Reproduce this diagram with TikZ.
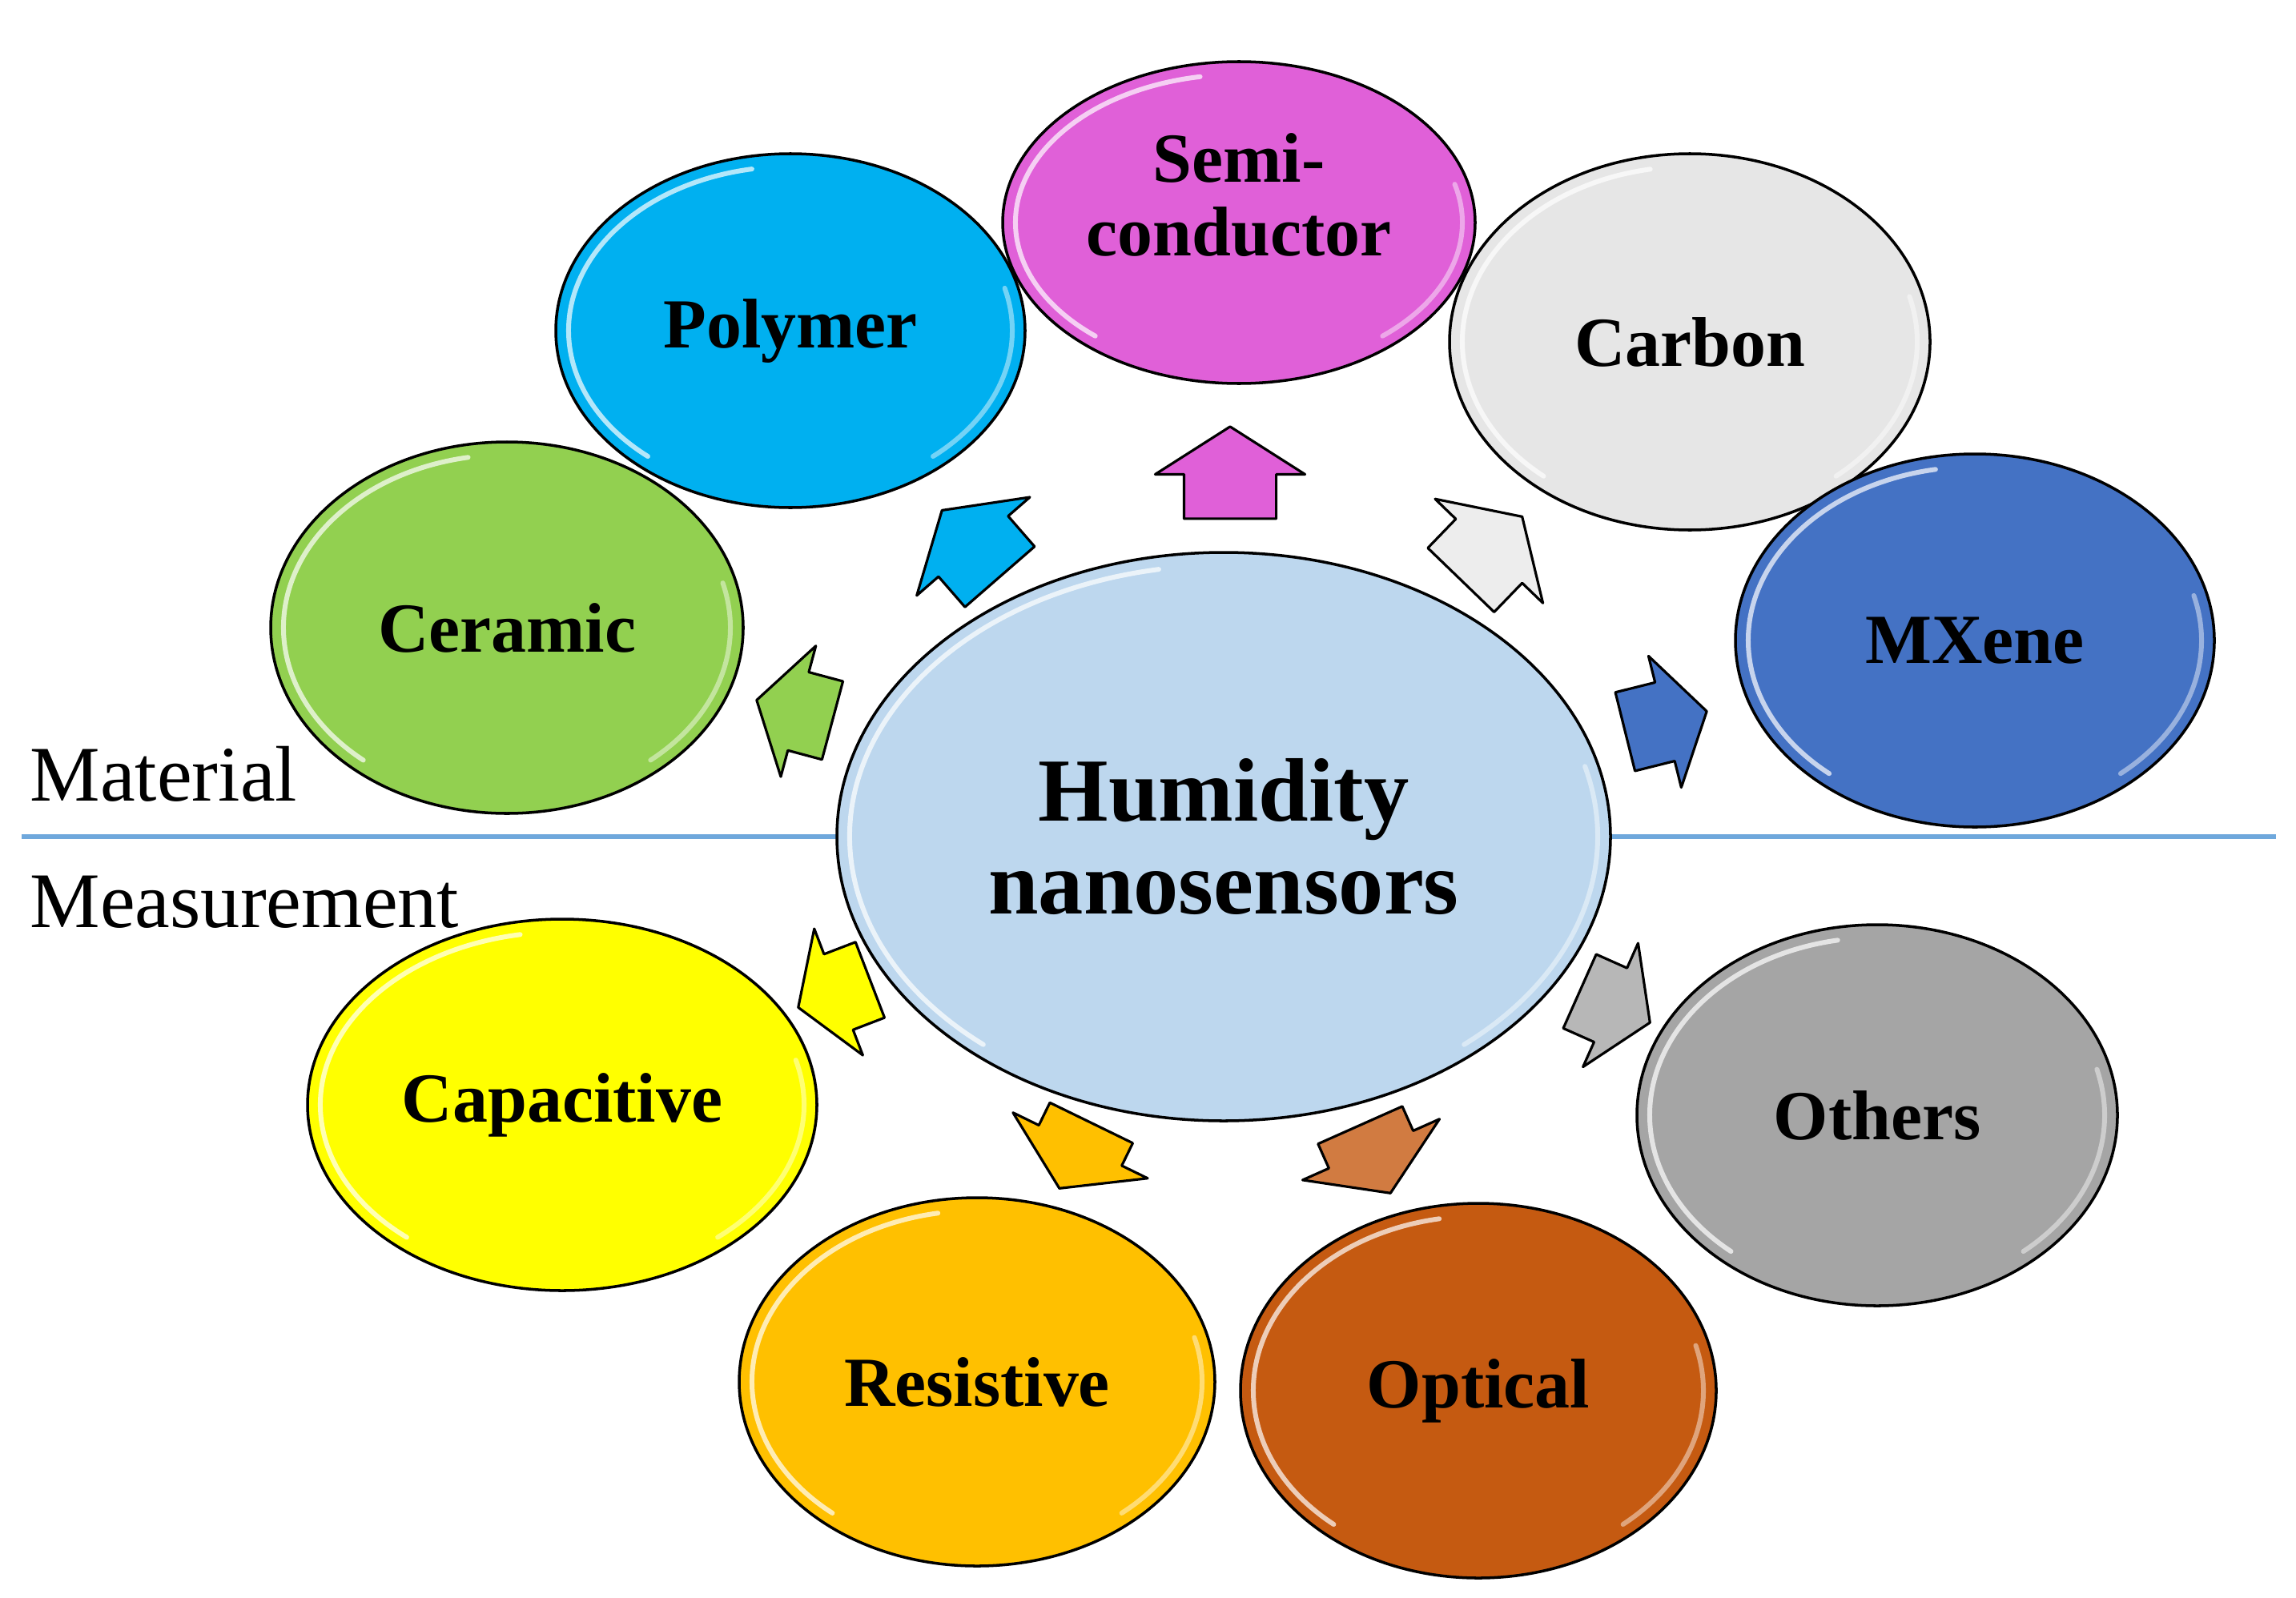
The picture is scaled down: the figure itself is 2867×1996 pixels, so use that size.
\documentclass[tikz,border=0pt]{standalone}
\usepackage{fontspec}
\setmainfont{Liberation Serif}
\usetikzlibrary{shapes.geometric,shapes.arrows}
\definecolor{cSemi}{HTML}{E060D8}
\definecolor{cPoly}{HTML}{00B0F0}
\definecolor{cCarb}{HTML}{E6E6E6}
\definecolor{cCera}{HTML}{92D050}
\definecolor{cMX}{HTML}{4472C4}
\definecolor{cHub}{HTML}{BDD7EE}
\definecolor{cCap}{HTML}{FFFF00}
\definecolor{cOth}{HTML}{A5A5A5}
\definecolor{cRes}{HTML}{FFC000}
\definecolor{cOpt}{HTML}{C55A11}
\definecolor{cLine}{HTML}{6FA8DC}
\newcommand\glossarc[4]{%
 \draw[gloss] ({#1+(#3-16)*cos(100)},{#2-(#4-16)*sin(100)}) arc[start angle=100,end angle=230,x radius={(#3-16)*0.1mm},y radius={(#4-16)*0.1mm}];
 \draw[gloss,opacity=0.45] ({#1+(#3-16)*cos(-50)},{#2-(#4-16)*sin(-50)}) arc[start angle=-50,end angle=15,x radius={(#3-16)*0.1mm},y radius={(#4-16)*0.1mm}];}
\begin{document}
\begin{tikzpicture}[x=0.1mm,y=-0.1mm,
  bubble/.style={ellipse, draw=black, line width=1pt, align=center, inner sep=0pt,
     font=\bfseries\fontsize{25}{26}\selectfont},
  gloss/.style={draw=white, line width=0.6mm, opacity=0.7, line cap=round},
  blockarrow/.style={single arrow, draw=black, line width=0.9pt, inner xsep=0pt, inner ysep=5.6mm,
     minimum height=11.5mm, single arrow head extend=3.6mm,
     single arrow tip angle=115, line join=round, anchor=tip},
  slimarrow/.style={blockarrow, inner ysep=4.9mm, single arrow head extend=3.4mm},
  sidelabel/.style={font=\fontsize{28}{30}\selectfont, anchor=base west, inner sep=0pt}]
\useasboundingbox (0,0) rectangle (2867,1996);
\fill[white] (0,0) rectangle (2867,1996);
% separator
\coordinate (lineL) at (27,1045);
\coordinate (lineR) at (2842,1045);
\draw[cLine, line width=1.5pt] (lineL) -- (lineR);
\node[sidelabel] (mat) at (37,1000) {Material};
\node[sidelabel] (meas) at (37,1158) {Measurement};
% hub
\node[bubble, fill=cHub, minimum width=96.6mm, minimum height=71mm,
      font=\bfseries\fontsize{32}{33}\selectfont] (hub) at (1528,1045) {Humidity\\nanosensors};
\glossarc{1528}{1045}{483}{355}
% materials
\node[bubble, fill=cCera, minimum width=59mm, minimum height=46.4mm] (cera) at (633,784) {Ceramic};
\glossarc{633}{784}{295}{232}
\node[bubble, fill=cPoly, minimum width=58.6mm, minimum height=44.2mm] (poly) at (987,413) {Polymer};
\glossarc{987}{413}{293}{221}
\node[bubble, fill=cSemi, minimum width=59mm, minimum height=40.2mm, text depth=7mm] (semi) at (1547,278) {Semi-\\conductor};
\glossarc{1547}{278}{295}{201}
\node[bubble, fill=cCarb, minimum width=60mm, minimum height=47mm] (carb) at (2110,427) {Carbon};
\glossarc{2110}{427}{300}{235}
\node[bubble, fill=cMX, minimum width=59.8mm, minimum height=46.6mm] (mx) at (2466,800) {MXene};
\glossarc{2466}{800}{299}{233}
% measurements
\node[bubble, fill=cCap, minimum width=63.6mm, minimum height=46.4mm] (cap) at (702,1380) {Capacitive};
\glossarc{702}{1380}{318}{232}
\node[bubble, fill=cRes, minimum width=59.4mm, minimum height=46mm] (res) at (1220,1726) {Resistive};
\glossarc{1220}{1726}{297}{230}
\node[bubble, fill=cOpt, minimum width=59.4mm, minimum height=46.8mm] (opt) at (1846,1737) {Optical};
\glossarc{1846}{1737}{297}{234}
\node[bubble, fill=cOth, minimum width=60mm, minimum height=47.6mm] (oth) at (2344,1393) {Others};
\glossarc{2344}{1393}{300}{238}
% arrows (placed by their tips)
\node[slimarrow, fill=cCera, rotate=165, minimum height=9.8mm] (aCera) at (943,874) {};
\node[blockarrow, fill=cPoly, rotate=131, minimum height=11mm] (aPoly) at (1175,636) {};
\node[blockarrow, fill=cSemi, rotate=90] (aSemi) at (1536,531) {};
\node[blockarrow, fill=cCarb!70!white, rotate=46, minimum height=11mm] (aCarb) at (1902,644) {};
\node[slimarrow, fill=cMX, rotate=14, minimum height=10.5mm] (aMX) at (2133,888) {};
\node[slimarrow, fill=cOth!80!white, rotate=-24, minimum height=9.6mm] (aOth) at (2062,1278) {};
\node[blockarrow, fill=cOpt!80!white, rotate=-66, minimum height=9.3mm] (aOpt) at (1737,1492) {};
\node[blockarrow, fill=cRes, rotate=-116, minimum height=9.1mm] (aRes) at (1322,1486) {};
\node[slimarrow, fill=cCap, rotate=-159, minimum height=9.6mm] (aCap) at (995,1259) {};
\end{tikzpicture}
\end{document}
